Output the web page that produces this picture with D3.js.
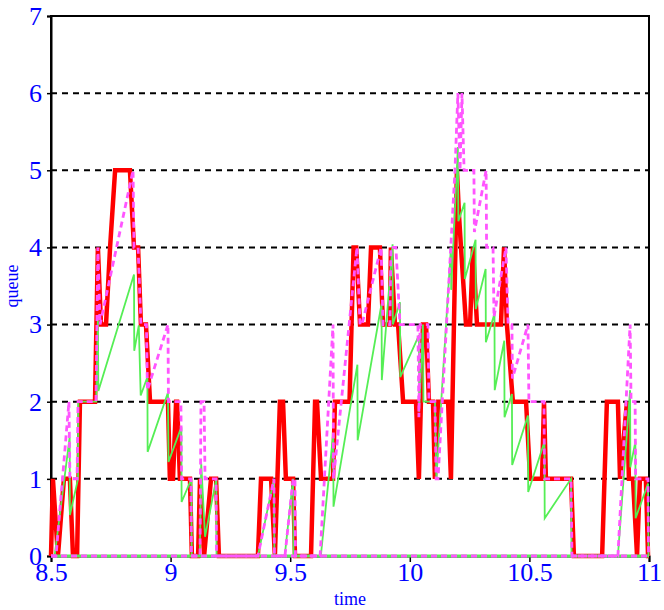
<!DOCTYPE html>
<html>
<head>
<meta charset="utf-8">
<script src="https://cdn.jsdelivr.net/npm/d3@7"></script>
<style>
  html, body { margin: 0; padding: 0; background: #ffffff; }
  svg { display: block; }
</style>
</head>
<body>
<script>
// ---------- data ----------
const xTicks = [8.5, 9, 9.5, 10, 10.5, 11];
const yTicks = [0, 1, 2, 3, 4, 5, 6, 7];
const gridLevels = [1, 2, 3, 4, 5, 6];

// red: queue length
const redT = [8.5, 8.508, 8.529, 8.554, 8.579, 8.592, 8.609, 8.621, 8.684, 8.696, 8.709, 8.730, 8.747, 8.768,
  8.830, 8.847, 8.864, 8.876, 8.897, 8.914, 8.989, 8.997, 9.010, 9.023, 9.027, 9.039, 9.081, 9.089, 9.115,
  9.123, 9.140, 9.169, 9.190, 9.202, 9.365, 9.378, 9.420, 9.436, 9.457, 9.470, 9.482, 9.512, 9.520, 9.587,
  9.604, 9.612, 9.629, 9.679, 9.687, 9.748, 9.765, 9.776, 9.792, 9.825, 9.838, 9.875, 9.888, 9.917, 9.921,
  9.938, 9.951, 9.972, 10.026, 10.038, 10.055, 10.068, 10.080, 10.097, 10.105, 10.118, 10.160, 10.172,
  10.197, 10.206, 10.214, 10.235, 10.252, 10.264, 10.281, 10.381, 10.394, 10.406, 10.431, 10.486, 10.503,
  10.553, 10.561, 10.569, 10.674, 10.686, 10.804, 10.824, 10.870, 10.879, 10.908, 10.916, 10.933, 10.950,
  10.962, 10.987, 10.996, 11.0];
const redQ = [0, 1, 0, 1, 1, 0, 0, 2, 2, 4, 3, 3, 4, 5,
  5, 4, 4, 3, 3, 2, 2, 1, 1, 2, 2, 1, 1, 0, 0,
  1, 0, 1, 1, 0, 0, 1, 1, 0, 2, 2, 1, 1, 0, 0,
  2, 2, 1, 1, 2, 2, 4, 4, 3, 3, 4, 4, 3, 3, 4,
  3, 3, 2, 2, 1, 3, 3, 2, 2, 1, 2, 2, 1,
  5, 4.4, 4, 3, 3, 4, 3, 3, 4, 3, 2, 2, 1,
  1, 2, 1, 1, 0, 0, 2, 2, 1, 2, 1, 1, 0,
  1, 1, 0, 0];

// magenta (dashed)
const magT = [8.5, 8.521, 8.575, 8.579, 8.609, 8.613, 8.688, 8.696, 8.705, 8.843, 8.847, 8.864, 8.876, 8.899,
  8.903, 8.989, 8.991, 9.043, 9.046, 9.085, 9.087, 9.123, 9.127, 9.140, 9.144, 9.190, 9.192, 9.365, 9.432,
  9.434, 9.478, 9.512, 9.520, 9.522, 9.625, 9.679, 9.681, 9.779, 9.792, 9.800, 9.880, 9.888, 9.917, 9.921,
  9.942, 9.959, 10.034, 10.038, 10.043, 10.076, 10.080, 10.105, 10.110, 10.118, 10.189, 10.201, 10.210,
  10.218, 10.227, 10.268, 10.270, 10.319, 10.321, 10.348, 10.352, 10.402, 10.411, 10.427, 10.429, 10.494,
  10.498, 10.561, 10.563, 10.674, 10.678, 10.870, 10.921, 10.925, 10.942, 10.944, 10.996, 10.998, 11.0];
const magQ = [0, 0, 2, 1, 1, 2, 2, 4, 3, 5, 4, 4, 3, 3,
  2.15, 3, 2, 2, 1, 1, 0, 0, 2, 2, 1, 1, 0, 0, 1,
  0, 0, 1, 1, 0, 0, 3, 1, 4, 3, 3, 4, 3, 3, 4,
  4, 3, 3, 1.8, 3, 3, 2, 2, 1, 1, 5, 6, 5,
  6, 5, 5, 4.2, 5, 4, 4, 3.1, 4, 3, 3, 2.3, 3,
  2, 2, 1, 1, 0, 0, 3, 2, 2, 1, 1, 0, 0];

// green (thin sawtooth)
const greenT = [8.5, 8.515, 8.578, 8.579, 8.613, 8.614, 8.689, 8.696, 8.698, 8.847, 8.848, 8.867, 8.875, 8.903,
  8.904, 8.989, 8.991, 9.045, 9.046, 9.087, 9.088, 9.122, 9.128, 9.144, 9.191, 9.192, 9.365, 9.432, 9.434,
  9.477, 9.512, 9.514, 9.628, 9.680, 9.681, 9.781, 9.782, 9.882, 9.883, 9.928, 9.929, 9.959, 9.960, 10.038,
  10.039, 10.055, 10.057, 10.105, 10.111, 10.172, 10.173, 10.201, 10.203, 10.229, 10.230, 10.275, 10.276,
  10.317, 10.318, 10.354, 10.355, 10.395, 10.396, 10.427, 10.428, 10.494, 10.495, 10.563, 10.564, 10.674,
  10.676, 10.870, 10.921, 10.922, 10.943, 10.944, 10.996, 10.998, 11.0];
const greenQ = [0, 0, 1.54, 0.53, 1, 2, 2, 3.09, 2.14, 3.65, 2.66, 2.99, 2.08, 2.32,
  1.35, 2.12, 1.22, 1.67, 0.7, 1, 0, 0, 1.2, 0.25, 1, 0, 0, 1, 0,
  0, 1, 0, 0, 1.59, 0.64, 2.48, 1.5, 3.27, 2.28, 4.04, 3.0, 3.29, 2.32, 2.86,
  1.87, 3.0, 2, 2, 1, 4.0, 3.45, 5.3, 4.34, 4.58, 3.59, 4.1, 3.2,
  3.72, 2.77, 3.14, 2.15, 2.79, 1.8, 2.1, 1.18, 1.82, 0.83, 1.48, 0.49, 1,
  0, 0, 2.15, 1.15, 1.48, 0.49, 0.94, 0, 0];

// baseline series that stay at zero for the whole window
const baseT = [8.5, 11];
const baseGreenQ = [0, 0];
const baseMagQ = [0, 0];

// ---------- drawing ----------
const W = 664, H = 610;
const margin = { left: 51, right: 15, top: 16, bottom: 54 };
const svg = d3.select("body").append("svg").attr("width", W).attr("height", H);

const x = d3.scaleLinear().domain([8.5, 11]).range([margin.left, W - margin.right]);
const y = d3.scaleLinear().domain([0, 7]).range([H - margin.bottom, margin.top]);

const blue = "#0000ff";
const font = "'Liberation Serif', 'DejaVu Serif', serif";

// grid
svg.append("g").selectAll("line").data(gridLevels).join("line")
  .attr("x1", x(8.5)).attr("x2", x(11))
  .attr("y1", d => y(d)).attr("y2", d => y(d))
  .attr("stroke", "#000").attr("stroke-width", 2)
  .attr("stroke-dasharray", "6,5");

// axes
const xAxis = d3.axisBottom(x).tickValues(xTicks).tickSize(6).tickPadding(1).tickFormat(d => String(d));
const gx = svg.append("g").attr("transform", `translate(0,${y(0)})`).call(xAxis);
const yAxis = d3.axisLeft(y).tickValues(yTicks).tickSize(4).tickPadding(5).tickFormat(d => String(d));
const gy = svg.append("g").attr("transform", `translate(${x(8.5)},0)`).call(yAxis);
[gx, gy].forEach(g => {
  g.select(".domain").attr("stroke", "#000").attr("stroke-width", 2);
  g.selectAll(".tick line").attr("stroke", "#000").attr("stroke-width", 1.5);
  g.selectAll(".tick text").attr("fill", blue).style("font-family", font).style("font-size", "26px");
});

// frame
svg.append("rect")
  .attr("x", x(8.5)).attr("y", y(7))
  .attr("width", x(11) - x(8.5)).attr("height", y(0) - y(7))
  .attr("fill", "none").attr("stroke", "#000").attr("stroke-width", 2);

const line = d3.line().x(d => x(d[0])).y(d => y(d[1]));

// red queue
svg.append("path").datum(d3.zip(redT, redQ)).attr("d", line)
  .attr("fill", "none").attr("stroke", "#ff0000").attr("stroke-width", 4.5)
  .attr("stroke-linejoin", "miter").attr("stroke-miterlimit", 2);

// green
svg.append("path").datum(d3.zip(baseT, baseGreenQ)).attr("d", line)
  .attr("fill", "none").attr("stroke", "#55ee55").attr("stroke-width", 3);
svg.append("path").datum(d3.zip(greenT, greenQ)).attr("d", line)
  .attr("fill", "none").attr("stroke", "#55ee55").attr("stroke-width", 1.8);

// magenta dashed
svg.append("path").datum(d3.zip(baseT, baseMagQ)).attr("d", line)
  .attr("fill", "none").attr("stroke", "#ff55ff").attr("stroke-width", 3)
  .attr("stroke-dasharray", "6,4");
svg.append("path").datum(d3.zip(magT, magQ)).attr("d", line)
  .attr("fill", "none").attr("stroke", "#ff55ff").attr("stroke-width", 2.8)
  .attr("stroke-dasharray", "6,4");

// axis titles
svg.append("text").text("time")
  .attr("x", (x(8.5) + x(11)) / 2).attr("y", 605)
  .attr("text-anchor", "middle").attr("fill", blue)
  .style("font-family", font).style("font-size", "18px");
svg.append("text").text("queue")
  .attr("transform", `translate(18,${(y(3) + y(4)) / 2}) rotate(-90)`)
  .attr("text-anchor", "middle").attr("fill", blue)
  .style("font-family", font).style("font-size", "18px");
</script>
</body>
</html>
